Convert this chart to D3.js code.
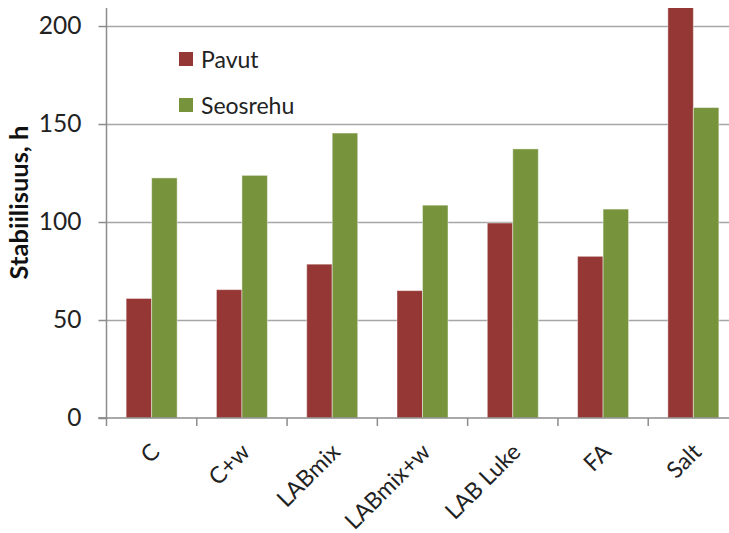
<!DOCTYPE html>
<html>
<head>
<meta charset="utf-8">
<script src="https://cdn.jsdelivr.net/npm/d3@7"></script>
<style>
  html, body { margin: 0; padding: 0; background: #fff; }
  svg { display: block; }
</style>
</head>
<body>
<script>
const categories = ["C", "C+w", "LABmix", "LABmix+w", "LAB Luke", "FA", "Salt"];
const seriesNames = ["Pavut", "Seosrehu"];
const pavut =    [61, 65.5, 78.5, 65, 99.5, 82.5, 210];
const seosrehu = [122.5, 123.8, 145.4, 108.6, 137.3, 106.6, 158.4];
const yTicks = [0, 50, 100, 150, 200];
const colors = ["#953735", "#77933C"];
const yTitle = "Stabiilisuus, h";

const W = 729, H = 533;
const m = { left: 106.5, top: 8, bottom: 418, right: 738.5 };
const FONT = "Lato, 'Liberation Sans', Arial, sans-serif";

const svg = d3.select("body").append("svg").attr("width", W).attr("height", H);

const x0 = d3.scaleBand().domain(categories).range([m.left, m.right]).paddingInner(0).paddingOuter(0);
const x1 = d3.scaleBand().domain(seriesNames).range([0, x0.bandwidth()]).paddingInner(0).paddingOuter(0.77);
const y = d3.scaleLinear().domain([0, 209.2]).range([m.bottom, m.top]);

svg.append("defs").append("clipPath").attr("id", "plotclip")
  .append("rect").attr("x", m.left).attr("y", m.top).attr("width", m.right - m.left).attr("height", m.bottom - m.top);

// gridlines
svg.append("g").selectAll("line").data(yTicks.filter(d => d > 0)).join("line")
  .attr("x1", m.left).attr("x2", W)
  .attr("y1", d => Math.round(y(d)) + 0.5).attr("y2", d => Math.round(y(d)) + 0.5)
  .attr("stroke", "#a6a6a6").attr("stroke-width", 1.5);

// bars
const data = categories.map((c, i) => ({ c, vals: [pavut[i], seosrehu[i]] }));
const gBars = svg.append("g").attr("clip-path", "url(#plotclip)");
gBars.selectAll("g").data(data).join("g")
  .attr("transform", d => `translate(${x0(d.c)},0)`)
  .selectAll("rect").data(d => d.vals.map((v, j) => ({ s: seriesNames[j], v, j })))
  .join("rect")
  .attr("x", d => x1(d.s))
  .attr("width", x1.bandwidth())
  .attr("y", d => y(d.v))
  .attr("height", d => y(0) - y(d.v))
  .attr("fill", d => colors[d.j])
  .attr("stroke", "rgba(255,255,255,0.45)")
  .attr("stroke-width", 1);

// y axis
const yAxis = d3.axisLeft(y).tickValues(yTicks).tickSize(8).tickPadding(17);
const gy = svg.append("g").attr("transform", `translate(${m.left},0)`).call(yAxis);
gy.select(".domain").attr("stroke", "#8c8c8c").attr("stroke-width", 1.5).attr("d", `M-8,${m.bottom}H0V${m.top}`);
gy.selectAll(".tick line").attr("stroke", "#8c8c8c").attr("stroke-width", 1.5);
gy.selectAll(".tick text").attr("font-family", FONT).attr("font-size", 24.5).attr("fill", "#222");

// x axis
const gx = svg.append("g").attr("transform", `translate(0,${m.bottom})`);
gx.append("line").attr("x1", m.left - 8).attr("x2", W).attr("y1", 0).attr("y2", 0)
  .attr("stroke", "#8c8c8c").attr("stroke-width", 1.5);
gx.selectAll("line.tk").data(categories).join("line").attr("class", "tk")
  .attr("x1", d => x0(d)).attr("x2", d => x0(d)).attr("y1", 0).attr("y2", 8)
  .attr("stroke", "#8c8c8c").attr("stroke-width", 1.5);
gx.selectAll("text").data(categories).join("text")
  .attr("transform", d => `translate(${x0(d) + x0.bandwidth() / 2 + 3},${29}) rotate(-45)`)
  .attr("text-anchor", "end")
  .attr("dominant-baseline", "central")
  .attr("font-family", FONT).attr("font-size", 23).attr("fill", "#222")
  .text(d => d);

// y title
svg.append("text")
  .attr("transform", `translate(28,${202.5}) rotate(-90)`)
  .attr("text-anchor", "middle")
  .attr("font-family", FONT).attr("font-weight", "bold").attr("font-size", 25.5).attr("fill", "#111")
  .text(yTitle);

// legend
const leg = svg.append("g");
seriesNames.forEach((s, i) => {
  const yy = 52 + i * 46;
  leg.append("rect").attr("x", 179).attr("y", yy).attr("width", 14).attr("height", 14).attr("fill", colors[i]);
  leg.append("text").attr("x", 201).attr("y", yy + 7).attr("dominant-baseline", "central")
    .attr("font-family", FONT).attr("font-size", 23).attr("fill", "#222").text(s);
});
</script>
</body>
</html>
